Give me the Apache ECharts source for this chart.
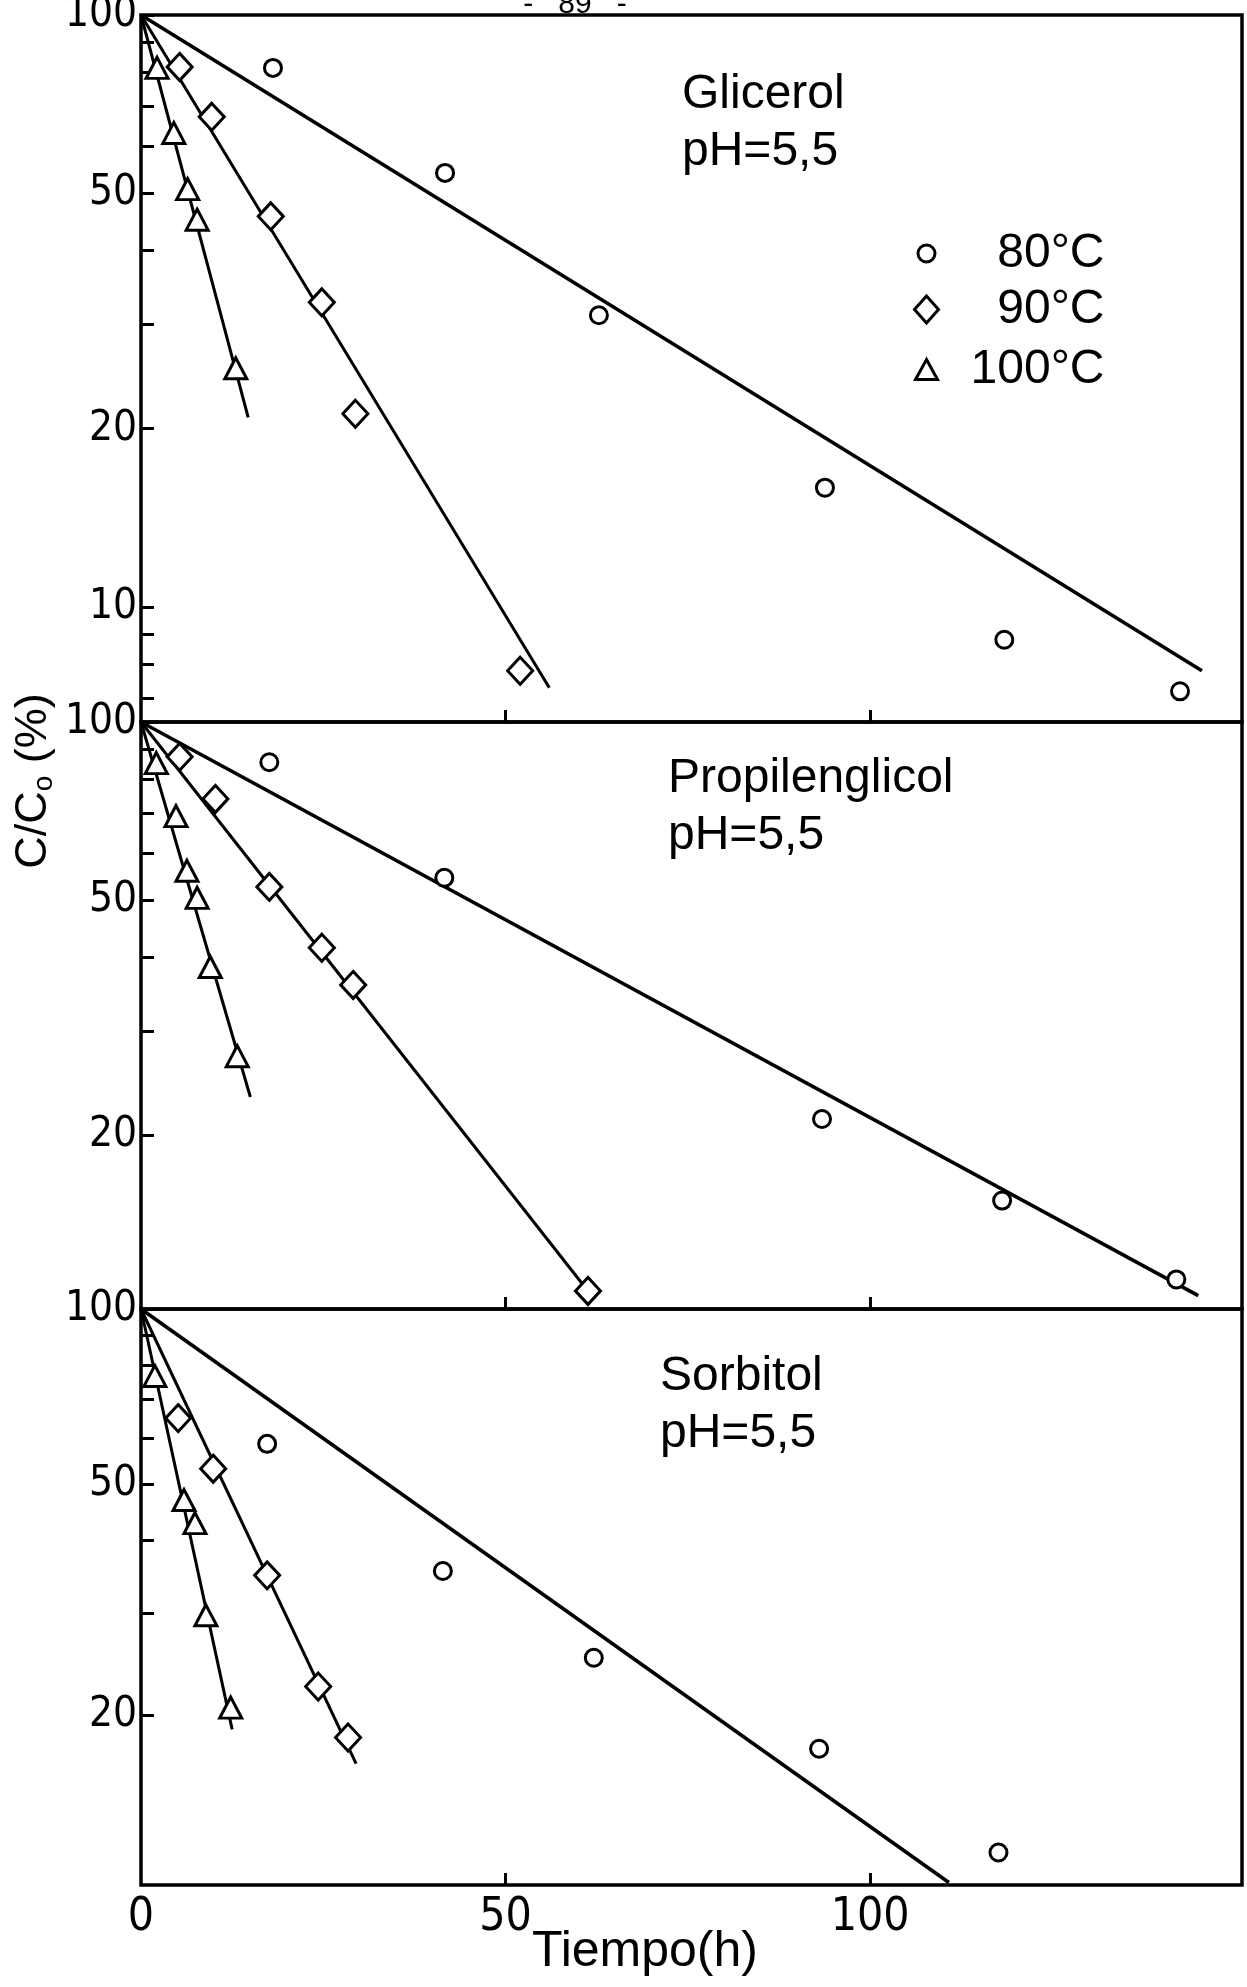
<!DOCTYPE html>
<html><head><meta charset="utf-8">
<script src="https://cdn.jsdelivr.net/npm/echarts@6/dist/echarts.min.js"></script>
<style>html,body{margin:0;padding:0;background:#fff}#c{width:1247px;height:1987px}</style>
</head><body><div id="c"></div>
<script>
// ---------------- data (Tiempo in h, C/Co in %) ----------------
const panelNames = ['Glicerol', 'Propilenglicol', 'Sorbitol'];
const panelSub = 'pH=5,5';
const seriesNames = ['80°C', '90°C', '100°C'];

// Glicerol
const gli80x = [18.1, 41.7, 62.8, 93.8, 118.4, 142.5];
const gli80y = [81.4, 54.1, 31.1, 15.9, 8.8, 7.2];
const gli90x = [5.3, 9.7, 17.8, 24.8, 29.4, 52.0];
const gli90y = [81.7, 67.3, 45.7, 32.7, 21.2, 7.8];
const gli100x = [2.2, 4.5, 6.4, 7.7, 13.0];
const gli100y = [81.4, 63.2, 50.8, 45.1, 25.3];
const gliFitEndX = [145.5, 56.0, 14.7];
const gliFitEndY = [7.8, 7.3, 20.9];

// Propilenglicol
const pro80x = [17.6, 41.6, 93.4, 118.1, 142.0];
const pro80y = [85.5, 54.5, 21.3, 15.5, 11.4];
const pro90x = [5.3, 10.2, 17.6, 24.8, 29.1, 61.3];
const pro90y = [87.3, 74.1, 52.6, 41.5, 35.9, 10.9];
const pro100x = [2.1, 4.8, 6.3, 7.7, 9.5, 13.2];
const pro100y = [85.2, 69.3, 56.0, 50.4, 38.5, 27.2];
const proFitEndX = [145.0, 61.3, 15.0];
const proFitEndY = [10.7, 10.9, 23.2];

// Sorbitol
const sor80x = [17.3, 41.4, 62.1, 93.0, 117.6];
const sor80y = [58.6, 35.4, 25.1, 17.5, 11.6];
const sor90x = [5.1, 9.9, 17.3, 24.3, 28.4];
const sor90y = [64.9, 53.1, 34.8, 22.4, 18.3];
const sor100x = [1.9, 5.9, 7.4, 8.9, 12.3];
const sor100y = [76.7, 46.9, 42.8, 29.7, 20.6];
const sorFitEndX = [110.8, 29.5, 12.5];
const sorFitEndY = [10.3, 16.5, 18.9];

const fitStart = [0, 100];
const yLabelTicks = [100, 50, 20, 10];
const yMinorTicks = [90, 80, 70, 60, 40, 30, 9, 8, 7];
const xTickVals = [50, 100];
const xLabelVals = [0, 50, 100];
const xMin = 0, xMax = 151;
const yMax = 100;
const yMins = [6.39, 10.16, 10.2];
const pageNumber = '-   89   -';
const xName = 'Tiempo(h)';

// ---------------- layout / style ----------------
const NARROW = "'Liberation Sans Narrow','DejaVu Sans Condensed','Liberation Sans',sans-serif";
const REG = "'Liberation Sans',Arial,sans-serif";
const gridLeft = 141, gridRight = 5;
const panelTops = [15, 722, 1309];
const panelBottoms = [722, 1309, 1885];
const titleLefts = [682, 668, 660];
const titleTops = [66, 750, 1348];
const symbols = ['circle', 'diamond', 'triangle'];
const symbolSizes = [17, [25, 27], [22, 21]];
const fitWidths = [3.6, 3, 3];

const panels = [
  {xs: [gli80x, gli90x, gli100x], ys: [gli80y, gli90y, gli100y], fx: gliFitEndX, fy: gliFitEndY},
  {xs: [pro80x, pro90x, pro100x], ys: [pro80y, pro90y, pro100y], fx: proFitEndX, fy: proFitEndY},
  {xs: [sor80x, sor90x, sor100x], ys: [sor80y, sor90y, sor100y], fx: sorFitEndX, fy: sorFitEndY}
];

const grid = [], xAxis = [], yAxis = [], series = [], title = [];
panels.forEach((p, i) => {
  grid.push({left: gridLeft, right: gridRight, top: panelTops[i], height: panelBottoms[i] - panelTops[i],
    show: true, borderColor: '#000', borderWidth: 3.5, backgroundColor: 'transparent',
    containLabel: false, outerBoundsMode: 'none'});
  xAxis.push({type: 'value', gridIndex: i, min: xMin, max: xMax, position: 'bottom',
    axisLine: {show: false}, splitLine: {show: false},
    axisTick: {show: true, inside: true, length: 12, customValues: xTickVals, lineStyle: {color: '#000', width: 3}},
    axisLabel: {show: i === 2, customValues: xLabelVals, margin: 10, color: '#000', fontSize: 46, fontFamily: NARROW}});
  // data axis (logarithmic)
  yAxis.push({type: 'log', logBase: 10, gridIndex: i, min: yMins[i], max: yMax, show: false, position: 'left',
    splitLine: {show: false}});
  // companion tick axis in log10 units carrying the tick marks and labels
  const lo = Math.log10(yMins[i]);
  yAxis.push({type: 'value', gridIndex: i, min: lo, max: Math.log10(yMax), position: 'left', offset: 0,
    axisLine: {show: false}, splitLine: {show: false},
    axisTick: {show: true, inside: true, length: 13, lineStyle: {color: '#000', width: 3},
      customValues: yLabelTicks.concat(yMinorTicks).filter(v => v >= yMins[i] && v <= yMax).map(v => Math.log10(v))},
    axisLabel: {customValues: yLabelTicks.filter(v => v >= yMins[i] && v <= yMax).map(v => Math.log10(v)),
      formatter: v => String(Math.round(Math.pow(10, v))), margin: 4, color: '#000', fontSize: 42, fontFamily: NARROW}});
  title.push({text: panelNames[i] + '\n' + panelSub, left: titleLefts[i], top: titleTops[i], padding: 0,
    textStyle: {fontSize: 48, fontWeight: 'normal', color: '#000', lineHeight: 57, fontFamily: REG}});
  for (let s = 0; s < 3; s++) {
    series.push({type: 'line', xAxisIndex: i, yAxisIndex: 2 * i, silent: true, symbol: 'none', z: 2,
      data: [fitStart, [p.fx[s], p.fy[s]]], lineStyle: {color: '#000', width: fitWidths[s], opacity: 1}});
  }
  for (let s = 0; s < 3; s++) {
    series.push({type: 'scatter', name: seriesNames[s], xAxisIndex: i, yAxisIndex: 2 * i, z: 3,
      symbol: symbols[s], symbolSize: symbolSizes[s],
      itemStyle: {color: '#fff', borderColor: '#000', borderWidth: 3, opacity: 1},
      emphasis: {disabled: true},
      data: p.xs[s].map((x, k) => [x, p.ys[s][k]])});
  }
});

// legend (one component per row)
const legendIconX = 925, legendTextRight = 1103;
const legendRowY = [259, 315, 375];
const legendIcon = [[17, 17], [24, 27], [22, 20]];
const legend = seriesNames.map((n, s) => {
  const w = legendIcon[s][0], h = legendIcon[s][1];
  const left = legendIconX - w / 2;
  return {data: [{name: n, icon: symbols[s]}], orient: 'vertical', left: left, top: legendRowY[s] - 29.5,
    padding: 0, itemWidth: w, itemHeight: h, itemGap: 0, selectedMode: false,
    itemStyle: {color: '#fff', borderColor: '#000', borderWidth: 3, opacity: 1},
    formatter: name => '{t|' + name + '}',
    textStyle: {rich: {t: {width: legendTextRight - (left + w + 5), align: 'right', fontSize: 48,
      lineHeight: 59, color: '#000', fontFamily: REG}}}};
});

const option = {
  animation: false,
  backgroundColor: '#fff',
  textStyle: {fontFamily: REG, color: '#000'},
  grid, xAxis, yAxis, series, title, legend,
  graphic: [
    {type: 'text', x: 34, y: 781, rotation: Math.PI / 2,
      style: {text: '{m|C/C}{s|o}{m| (%)}', align: 'center', verticalAlign: 'middle',
        rich: {m: {fontSize: 45, lineHeight: 48, fontFamily: REG, fill: '#000'},
               s: {fontSize: 28, lineHeight: 25, verticalAlign: 'bottom', fontFamily: REG, fill: '#000'}}}},
    {type: 'text', x: 532, y: 1952,
      style: {text: xName, font: "50px 'Liberation Sans', Arial, sans-serif", fill: '#000', verticalAlign: 'middle'}},
    {type: 'text', x: 575, y: 4.5,
      style: {text: pageNumber, font: "30px 'Liberation Sans', Arial, sans-serif", fill: '#000', align: 'center', verticalAlign: 'middle'}}
  ]
};
const chart = echarts.init(document.getElementById('c'), null, {renderer: 'canvas'});
chart.setOption(option);
</script>
</body></html>
